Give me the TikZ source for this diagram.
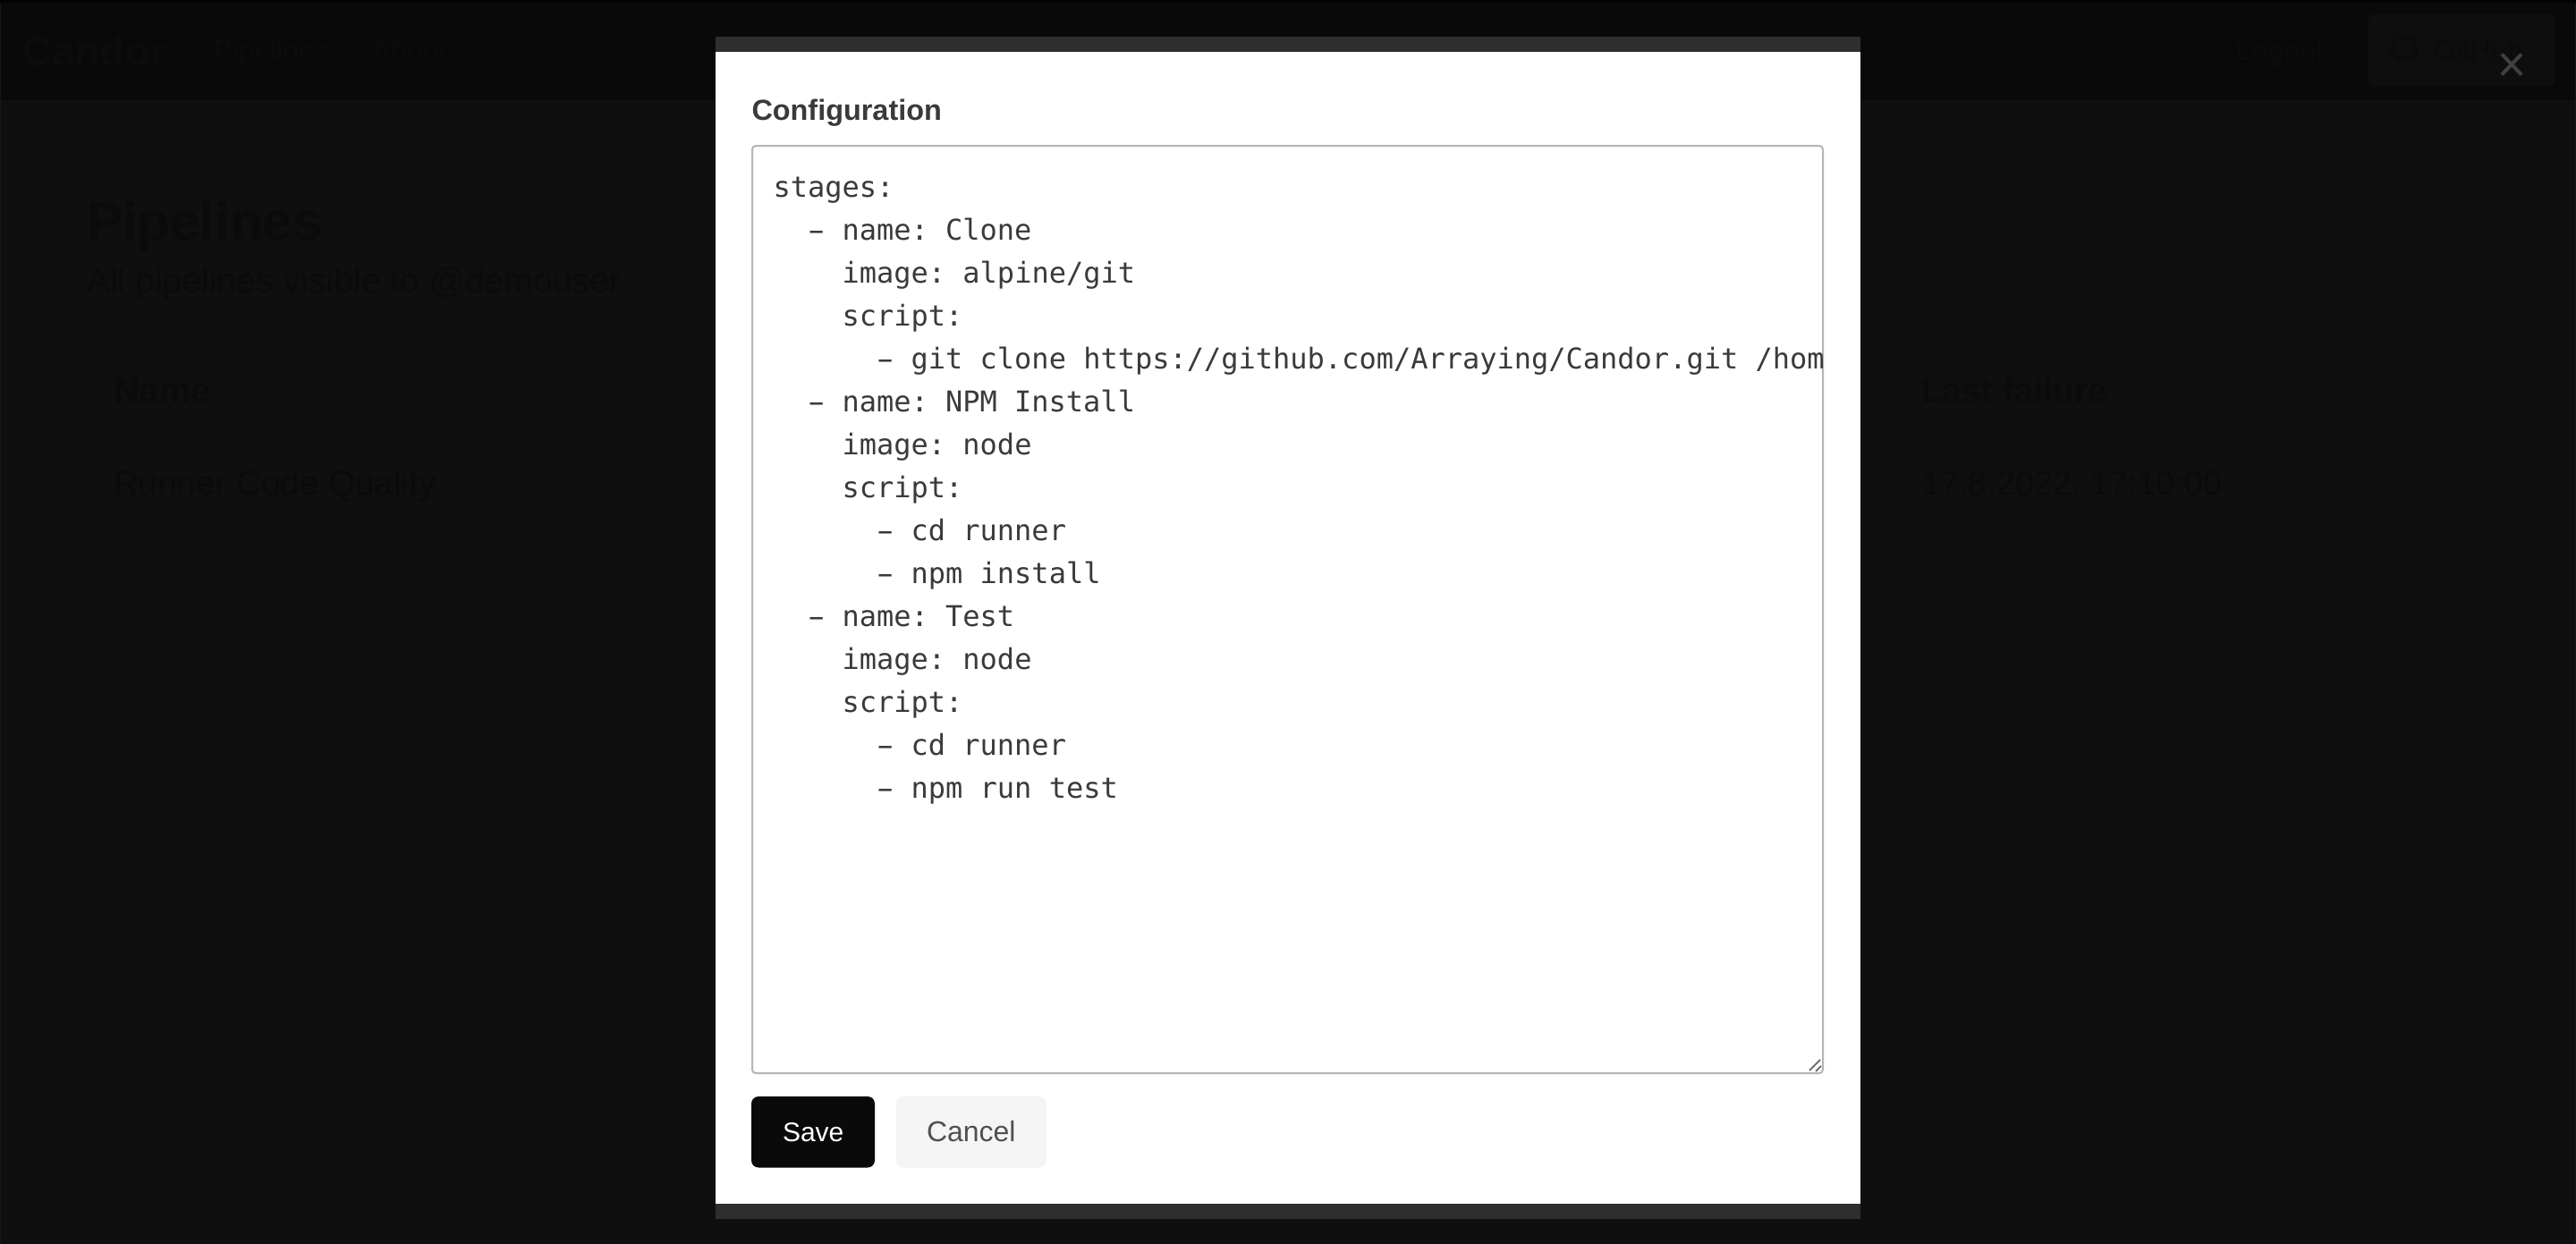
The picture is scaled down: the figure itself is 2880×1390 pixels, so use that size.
\documentclass[tikz,border=0pt]{standalone}
\usepackage{fontspec}
\usepackage{graphicx}
\setmainfont{Liberation Sans}
\setmonofont{DejaVu Sans Mono}
\definecolor{pagebg}{HTML}{0F0F0F}
\definecolor{headbg}{HTML}{090909}
\definecolor{strip}{HTML}{020202}
\definecolor{sideline}{HTML}{171717}
\definecolor{fainttext}{HTML}{0B0B0B}
\definecolor{headtext}{HTML}{0C0C0C}
\definecolor{ghbtn}{HTML}{0E0E0E}
\definecolor{ghtext}{HTML}{0B0B0B}
\definecolor{xmark}{HTML}{404040}
\definecolor{modalbar}{HTML}{2E2E2E}
\definecolor{inktext}{HTML}{3A3A3A}
\definecolor{areaborder}{HTML}{B5B5B5}
\definecolor{handle}{HTML}{707070}
\definecolor{savebg}{HTML}{0A0A0A}
\definecolor{cancelbg}{HTML}{F5F5F5}
\definecolor{canceltext}{HTML}{505050}
\newcommand{\fs}[1]{\fontsize{#1}{#1}\selectfont}
\newcommand{\yamldash}{\makebox[19.26pt][c]{\scalebox{1.75}[1]{-}}}
\tikzset{
  lbl/.style={anchor=base west,inner sep=0pt,outer sep=0pt},
  code/.style={lbl,text=inktext,font=\ttfamily\frenchspacing\fs{32}},
  backtext/.style={lbl,text=fainttext},
  navtext/.style={lbl,text=headtext},
}
\begin{document}
\begin{tikzpicture}[x=1pt,y=-1pt]
\useasboundingbox (0,0) rectangle (2880,1390);
% dimmed page
\fill[pagebg] (-3,-3) rectangle (2883,1393);
\fill[sideline] (-3,-3) rectangle (1,1393);
\fill[sideline] (2879,-3) rectangle (2883,1393);
\fill[headbg] (1,-3) rectangle (2879,112);
\fill[strip] (-3,-3) rectangle (2883,2.5);
\node[navtext,font=\bfseries\fs{46}] (brand) at (25,73) {Candor};
\node[navtext,font=\fs{32}] (navpipe) at (238,67) {Pipelines};
\node[navtext,font=\fs{32}] (navabout) at (416,67) {About};
\node[navtext,font=\fs{32}] (logout) at (2500,67) {Logout};
\fill[ghbtn,rounded corners=6pt] (2648,16) rectangle (2856,96);
\node[lbl,text=ghtext,font=\fs{32}] (ghlabel) at (2721,67) {GitHub};
\fill[ghtext,even odd rule] (2688,56) circle[radius=15.5] (2688,53) circle[radius=9.5];
\fill[ghbtn] (2683,64) rectangle (2693,72);
% page content behind the overlay
\node[backtext,font=\bfseries\fs{60}] (title) at (97,268) {Pipelines};
\node[backtext,font=\fs{39.2}] (subtitle) at (97,327) {All pipelines visible to @demouser};
\node[backtext,font=\bfseries\fs{40}] (colname) at (127,450) {Name};
\node[backtext,font=\bfseries\fs{39}] (colfail) at (2148,450) {Last failure};
\node[backtext,font=\fs{38.6}] (rowname) at (127,553) {Runner Code Quality};
\node[backtext,font=\fs{37.8}] (rowfail) at (2148,553) {17.8.2022, 17:10:00};
% close cross
\draw[xmark,line width=4pt] (2797,60.5) -- (2819,83.5) (2819,60.5) -- (2797,83.5);
% modal
\fill[modalbar] (800,41) rectangle (2080,58);
\fill[white] (800,58) rectangle (2080,1346);
\fill[modalbar] (800,1346) rectangle (2080,1363);
\node[lbl,text=inktext,font=\bfseries\fs{32.4}] (cfg) at (840.5,134) {Configuration};
% textarea
\draw[areaborder,line width=2pt,rounded corners=4pt,fill=white] (841,163) rectangle (2038,1200);
\fill[black!3] (845,164) rectangle (2034,166);
\begin{scope}
\clip (842,164) rectangle (2037,1199);
\node[code] (l0) at (864.5,220) {stages:};
\node[code] (l1) at (903,268) {\yamldash{} name: Clone};
\node[code] (l2) at (941.6,316) {image: alpine/git};
\node[code] (l3) at (941.6,364) {script:};
\node[code] (l4) at (980.1,412) {\yamldash{} git clone https://github.com/Arraying/Candor.git /hom};
\node[code] (l5) at (903,460) {\yamldash{} name: NPM Install};
\node[code] (l6) at (941.6,508) {image: node};
\node[code] (l7) at (941.6,556) {script:};
\node[code] (l8) at (980.1,604) {\yamldash{} cd runner};
\node[code] (l9) at (980.1,652) {\yamldash{} npm install};
\node[code] (l10) at (903,700) {\yamldash{} name: Test};
\node[code] (l11) at (941.6,748) {image: node};
\node[code] (l12) at (941.6,796) {script:};
\node[code] (l13) at (980.1,844) {\yamldash{} cd runner};
\node[code] (l14) at (980.1,892) {\yamldash{} npm run test};
\end{scope}
% resize handle
\draw[handle,line width=2pt] (2023,1197) -- (2035,1185) (2030,1198) -- (2036,1192);
% buttons
\fill[savebg,rounded corners=8pt] (840,1226) rectangle (978,1305.5);
\fill[cancelbg,rounded corners=8pt] (1002,1226) rectangle (1170,1305.5);
\node[lbl,text=white,font=\fs{30}] (save) at (875,1276.5) {Save};
\node[lbl,text=canceltext,font=\fs{32}] (cancel) at (1036,1276.5) {Cancel};
\end{tikzpicture}
\end{document}
